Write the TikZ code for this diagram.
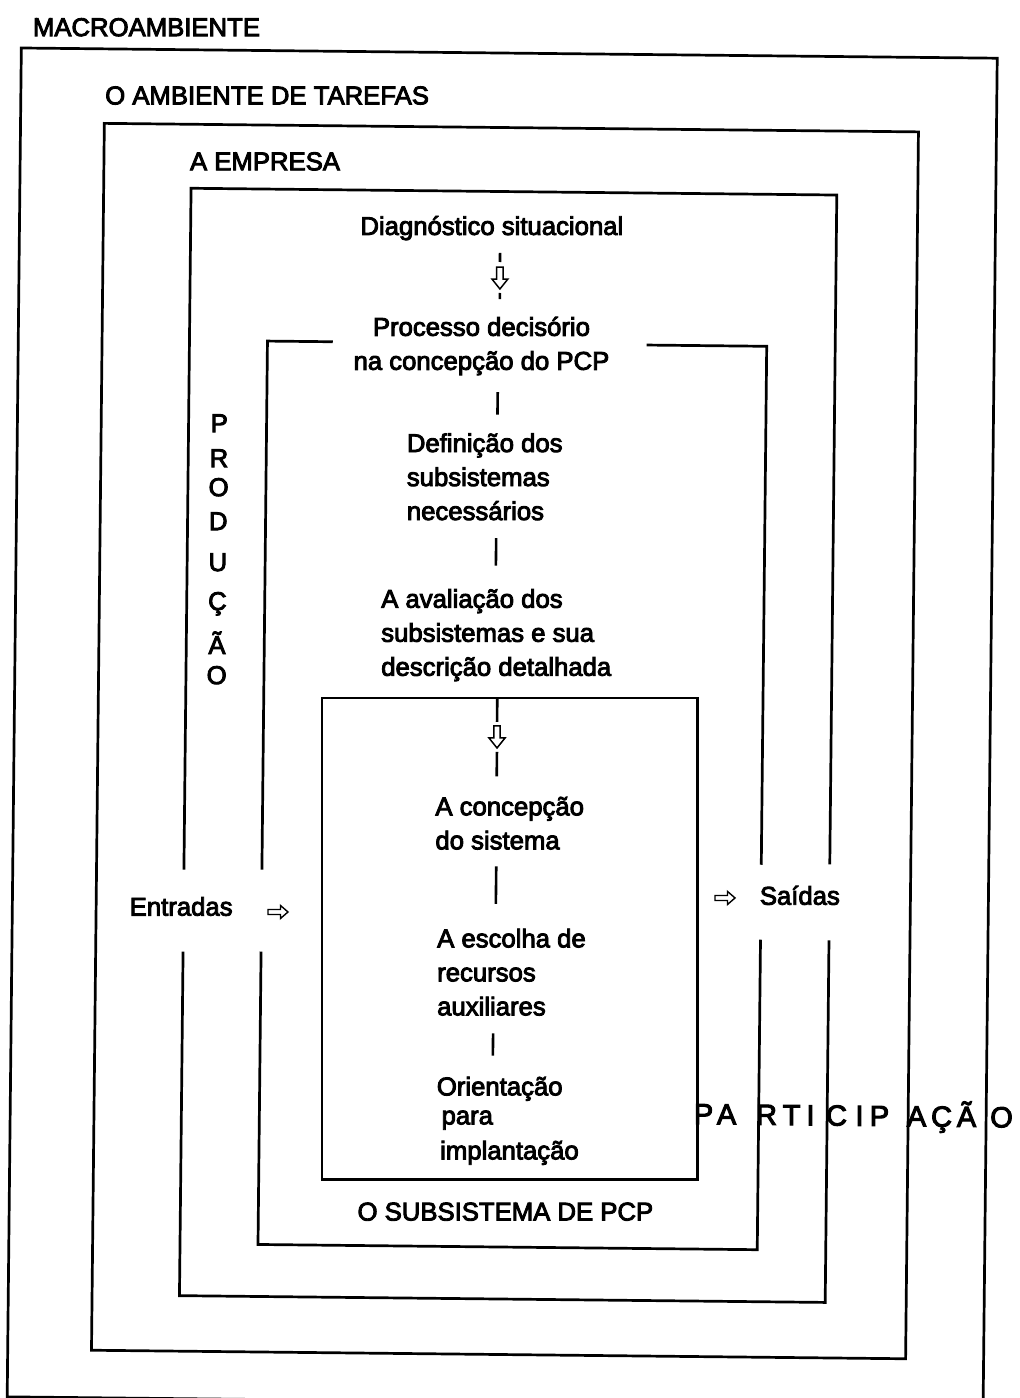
\documentclass[tikz,border=0pt]{standalone}
\usepackage{fontspec}
\setmainfont{Liberation Sans}
\newcommand{\scanweight}{\addfontfeature{FakeBold=3.5}}
\begin{document}
\begin{tikzpicture}[x=1pt, y=-1pt,
  every node/.style={inner sep=0pt, outer sep=0pt, font=\fontsize{25.7pt}{34pt}\selectfont\scanweight},
  frame/.style={line width=2.7pt, line join=miter},
  link/.style={line width=2.6pt},
  caption/.style={anchor=base west},
  letter/.style={anchor=base},
  bigletter/.style={anchor=base, font=\fontsize{29pt}{34pt}\selectfont\scanweight},
  downarrow/.pic={
    \draw[line width=1.5pt, line join=miter]
      (-3.2,-11) -- (-3.2,1) -- (-8,1) -- (0,11) -- (8,1) -- (3.2,1) -- (3.2,-11) -- cycle;
    \coordinate (-top) at (0,-11);
    \coordinate (-bot) at (0,11);
  },
  rightarrow/.pic={
    \draw[line width=1.4pt, line join=miter]
      (-10,-2.5) -- (2.5,-2.5) -- (2.5,-6.5) -- (10,0) -- (2.5,6.5) -- (2.5,2.5) -- (-10,2.5) -- cycle;
  },
]
\useasboundingbox (0,0) rectangle (1020,1398);
\fill[white] (0,0) rectangle (1020,1398);
\clip (0,0) rectangle (1020,1398);

\begin{scope}[rotate around={-0.6:(500,700)}]

% nested environments
\draw[frame] (14.5,53) rectangle (990.5,1402);
\draw[frame] (98.3,127.5) rectangle (912.5,1354.5);

% the firm, open where inputs enter and outputs leave
\draw[frame] (185.7,873) -- (185.7,191.5) -- (831.5,191.5) -- (831.5,861);
\draw[frame] (831.5,937) -- (831.5,1299) -- (185.7,1299) -- (185.7,955);

% the PCP subsystem, open at the top for the decision process
\draw[frame] (329,343.5) -- (263.7,343.5) -- (263.7,872);
\draw[frame] (643,343.5) -- (763,343.5) -- (763,862);
\draw[frame] (763,937) -- (763,1247) -- (263.7,1247) -- (263.7,954);

% system design core
\node[draw, frame, minimum width=375.5pt, minimum height=481pt, anchor=north west] (core) at (322,700) {};

% environment labels
\node[caption] (macro) at (26,41) {MACROAMBIENTE};
\node[caption] (tasks) at (99,108.5) {O AMBIENTE DE TAREFAS};
\node[caption] (firm) at (184.5,173.5) {A EMPRESA};
\node[caption] (pcp) at (363,1222) {O SUBSISTEMA DE PCP};

% steps of the design process (base = last line)
\node[anchor=base] (diag) at (487,235) {Diagnóstico situacional};
\node[anchor=base, align=center] (proc) at (478,370) {Processo decisório\\na concepção do PCP};
\node[caption, align=left] (def) at (405,521) {Definição dos\\subsistemas\\necessários};
\node[caption, align=left] (aval) at (381,677) {A avaliação dos\\subsistemas e sua\\descrição detalhada};
\node[caption, align=left] (conc) at (437,850) {A concepção\\do sistema};
\node[caption, align=left] (esc) at (440.5,1016) {A escolha de\\recursos\\auxiliares};
\node[caption] (ori) at (441,1096) {Orientação};
\node[caption] (para) at (446,1125) {para};
\node[caption] (impl) at (445,1160) {implantação};

% inputs and outputs
\node[caption] (inp) at (132,919.5) {Entradas};
\pic (inarrow) at (280.2,914.3) {rightarrow};
\pic (outarrow) at (727.1,895.6) {rightarrow};
\node[caption] (out) at (762,902) {Saídas};

% vertical word
\foreach \ch/\yy [count=\i] in {P/435, R/470, O/499, D/533, U/574, Ç/613, Ã/657, O/687}
  \node[letter] (prod\i) at (216.5,\yy) {\ch};

% spaced word across the right-hand frames
\foreach \ch/\xx [count=\i] in {P/708, A/731, R/771, T/796, I/815, C/841, I/864, P/884, A/921, Ç/946, Ã/971, O/1006}
  \node[bigletter] (part\i) at (\xx,1122) {\ch};

% connectors between the steps
\coordinate (axisU) at (494.5,450);
\coordinate (axisL) at (498,880);
\coordinate (axisB) at (496.6,1045);

\pic (a1) at (495.5,278) {downarrow};
\draw[link, shorten <=12.6pt, shorten >=5pt] (diag.south -| a1-top) -- (a1-top);
\draw[link, shorten <=4pt, shorten >=18pt] (a1-bot) -- (proc.north -| a1-bot);

\draw[link, shorten <=16.6pt, shorten >=19pt] (proc.south -| axisU) -- (def.north -| axisU);
\draw[link, shorten <=17.7pt, shorten >=23.4pt] (def.south -| axisU) -- (aval.north -| axisU);

\pic (a2) at (497.4,737) {downarrow};
\draw[link, shorten >=4pt] (core.north -| a2-top) -- (a2-top);
\draw[link, shorten <=4pt, shorten >=20.3pt] (a2-bot) -- (conc.north -| a2-bot);

\draw[link, shorten <=17pt, shorten >=24.6pt] (conc.south -| axisL) -- (esc.north -| axisL);
\draw[link, shorten <=18pt, shorten >=21pt] (esc.south -| axisB) -- (ori.north -| axisB);

\end{scope}
\end{tikzpicture}
\end{document}
